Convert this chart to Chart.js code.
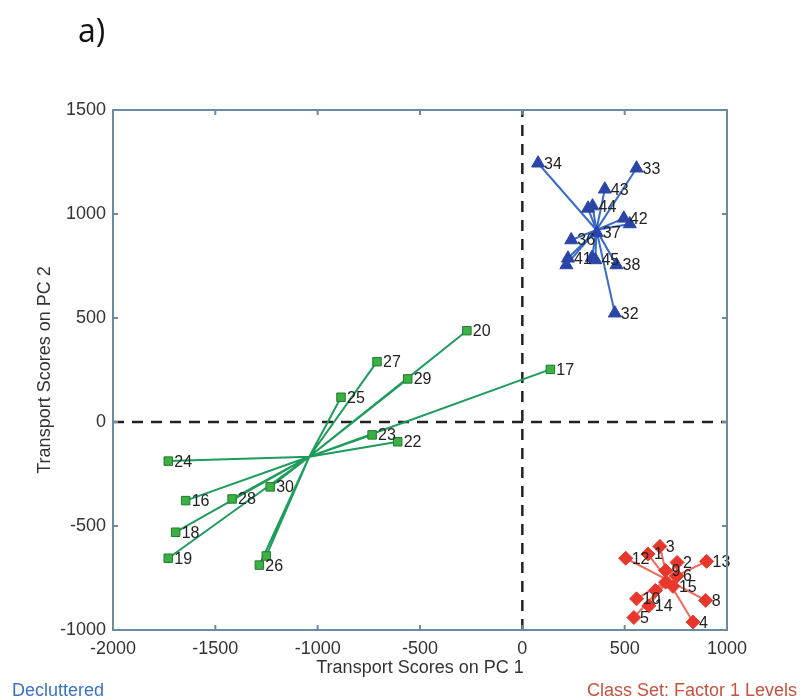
<!DOCTYPE html>
<html>
<head>
    <title>Transport scores</title>
    <meta charset="UTF-8">
    <script src="https://cdn.jsdelivr.net/npm/chart.js@4/dist/chart.umd.min.js"></script>
    <style>
        body { margin: 0; background: #fff; }
        #wrap { position: relative; width: 803px; height: 700px; }
        #myChart { display: block; }
        .note { position: absolute; font-family: "Liberation Sans", Arial, sans-serif; font-size: 18px; line-height: 1; white-space: nowrap; }
    </style>
</head>
<body>
<div id="wrap">
    <canvas id="myChart" width="803" height="700"></canvas>
    <div class="note" style="left:78px; top:8px; font-family:'Open Sans', sans-serif; font-size:32px; line-height:normal; color:#111;">a)</div>
    <div class="note" style="left:12px; top:681px; color:#3a72c8;">Decluttered</div>
    <div class="note" style="left:587px; top:681px; color:#c9513c;">Class Set: Factor 1 Levels</div>
</div>
<script>
    // samples 16-30 (green squares)
    const greenLabels = ['16', '17', '18', '19', '20', '', '22', '23', '24', '25', '26', '27', '28', '29', '30'];
    const greenX = [-1645, 137, -1694, -1730, -271, -1251, -609, -734, -1730, -886, -1285, -710, -1418, -560, -1232];
    const greenY = [-378, 253, -530, -655, 439, -644, -95, -62, -188, 119, -688, 290, -370, 207, -312];
    const greenCenter = [-1041, -167];

    // samples 31-45 (blue triangles)
    const blueLabels = ['', '32', '33', '34', '', '36', '37', '38', '', '', '41', '42', '43', '44', '45'];
    const blueX = [525, 452, 558, 77, 215, 239, 364, 460, 321, 340, 223, 496, 403, 343, 357];
    const blueY = [952, 523, 1220, 1244, 755, 875, 909, 755, 1027, 790, 787, 979, 1119, 1038, 779];
    const blueCenter = [362, 923];

    // samples 1-15 (red diamonds)
    const redLabels = ['1', '2', '3', '4', '5', '6', '', '8', '9', '10', '', '12', '13', '14', '15'];
    const redX = [614, 756, 672, 834, 545, 756, 700, 896, 700, 558, 650, 505, 900, 618, 736];
    const redY = [-635, -675, -598, -962, -940, -740, -770, -858, -714, -850, -810, -655, -670, -884, -790];
    const redCenter = [711, -760];

    const xTicks = [-2000, -1500, -1000, -500, 0, 500, 1000];
    const yTicks = [-1000, -500, 0, 500, 1000, 1500];

    const font = '"Liberation Sans", Arial, sans-serif';
    Chart.defaults.font.family = font;

    function points(xs, ys) {
        return xs.map((x, i) => ({x: x, y: ys[i]}));
    }

    function spokes(xs, ys, c) {
        let out = [];
        xs.forEach((x, i) => {
            out.push({x: c[0], y: c[1]});
            out.push({x: x, y: ys[i]});
        });
        return out;
    }

    function markerSet(xs, ys, labels, style, radius, fill, edge) {
        return {
            data: points(xs, ys),
            labelsText: labels,
            pointStyle: style,
            pointRadius: radius,
            pointBackgroundColor: fill,
            pointBorderColor: edge,
            pointBorderWidth: 1,
            showLine: false,
            order: 0,
            clip: false
        };
    }

    function spokeSet(xs, ys, c, color) {
        return {
            data: spokes(xs, ys, c),
            showLine: true,
            borderColor: color,
            borderWidth: 2,
            pointRadius: 0,
            tension: 0,
            order: 1
        };
    }

    function dashSet(data) {
        return {
            data: data,
            showLine: true,
            borderColor: '#222',
            borderWidth: 2.5,
            borderDash: [11, 8],
            pointRadius: 0,
            order: 2
        };
    }

    // frame + inward ticks on all four sides
    const framePlugin = {
        id: 'frame',
        afterDraw(chart) {
            const {ctx, chartArea: a, scales} = chart;
            ctx.save();
            ctx.strokeStyle = '#6a8c9e';
            ctx.lineWidth = 2;
            ctx.strokeRect(a.left, a.top, a.right - a.left, a.bottom - a.top);
            ctx.beginPath();
            xTicks.forEach(v => {
                const px = scales.x.getPixelForValue(v);
                ctx.moveTo(px, a.bottom); ctx.lineTo(px, a.bottom - 5);
                ctx.moveTo(px, a.top); ctx.lineTo(px, a.top + 5);
            });
            yTicks.forEach(v => {
                const py = scales.y.getPixelForValue(v);
                ctx.moveTo(a.left, py); ctx.lineTo(a.left + 5, py);
                ctx.moveTo(a.right, py); ctx.lineTo(a.right - 5, py);
            });
            ctx.stroke();
            ctx.restore();
        }
    };

    // sample numbers next to markers
    const labelPlugin = {
        id: 'pointLabels',
        afterDatasetsDraw(chart) {
            const ctx = chart.ctx;
            ctx.save();
            ctx.font = '16px ' + font;
            ctx.fillStyle = '#222';
            ctx.textAlign = 'left';
            ctx.textBaseline = 'middle';
            chart.data.datasets.forEach((ds, i) => {
                if (!ds.labelsText) return;
                chart.getDatasetMeta(i).data.forEach((el, j) => {
                    const t = ds.labelsText[j];
                    if (t) ctx.fillText(t, el.x + 6, el.y + 1);
                });
            });
            ctx.restore();
        }
    };

    let ctx = document.getElementById('myChart').getContext('2d');
    let myChart = new Chart(ctx, {
        type: 'scatter',
        data: {
            datasets: [
                markerSet(redX, redY, redLabels, 'rectRot', 7, '#e8382c', '#e8382c'),
                markerSet(blueX, blueY, blueLabels, 'triangle', 7.5, '#2a45a8', '#2a45a8'),
                markerSet(greenX, greenY, greenLabels, 'rect', 6, '#3cb043', '#1e7b2e'),
                spokeSet(redX, redY, redCenter, '#ef6a5a'),
                spokeSet(blueX, blueY, blueCenter, '#3a6cc8'),
                spokeSet(greenX, greenY, greenCenter, '#1d9c5b'),
                dashSet([{x: 0, y: -1000}, {x: 0, y: 1500}]),
                dashSet([{x: -2000, y: 0}, {x: 1000, y: 0}])
            ]
        },
        options: {
            responsive: false,
            animation: false,
            layout: {padding: {top: 110, right: 76, left: 0, bottom: 0}},
            plugins: {legend: {display: false}, tooltip: {enabled: false}},
            scales: {
                x: {
                    type: 'linear',
                    min: -2000, max: 1000,
                    afterBuildTicks: s => { s.ticks = xTicks.map(v => ({value: v})); },
                    afterFit: s => { s.height = 70; },
                    ticks: {font: {size: 18}, color: '#333', padding: 8, maxRotation: 0, callback: v => String(v)},
                    grid: {display: false, drawTicks: false},
                    border: {display: false},
                    title: {display: true, text: 'Transport Scores on PC 1', font: {size: 18}, color: '#333', padding: {bottom: 21}}
                },
                y: {
                    type: 'linear',
                    min: -1000, max: 1500,
                    afterBuildTicks: s => { s.ticks = yTicks.map(v => ({value: v})); },
                    afterFit: s => { s.width = 113; },
                    ticks: {font: {size: 18}, color: '#333', padding: 7, callback: v => String(v)},
                    grid: {display: false, drawTicks: false},
                    border: {display: false},
                    title: {display: true, text: 'Transport Scores on PC 2', font: {size: 18}, color: '#333', padding: {top: 34}}
                }
            }
        },
        plugins: [framePlugin, labelPlugin]
    });
</script>
</body>
</html>
